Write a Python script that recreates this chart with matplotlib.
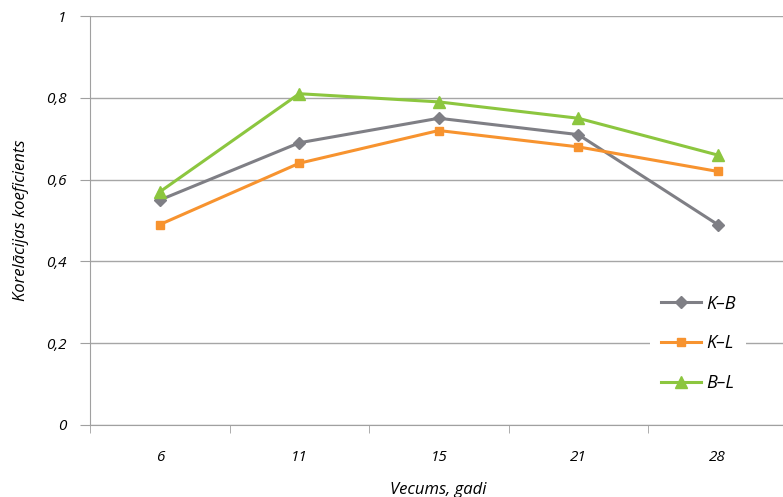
import numpy as np
import matplotlib.pyplot as plt

ages = ['6', '11', '15', '21', '28']
kb = [0.55, 0.69, 0.75, 0.71, 0.49]
kl = [0.49, 0.64, 0.72, 0.68, 0.62]
bl = [0.57, 0.81, 0.79, 0.75, 0.66]
yticks = [0, 0.2, 0.4, 0.6, 0.8, 1]
ytick_labels = ['0', '0,2', '0,4', '0,6', '0,8', '1']

plt.rcParams['font.family'] = ['Open Sans', 'DejaVu Sans']
plt.rcParams['font.style'] = 'italic'

fig = plt.figure(figsize=(7.83, 4.97), dpi=100)
ax = fig.add_axes([90 / 783, 1 - 425 / 497, 697.5 / 783, 409 / 497])

x = np.arange(len(ages))
ax.plot(x, kb, color='#7f7f85', lw=2.2, marker='D', ms=6, label='K–B', zorder=3)
ax.plot(x, kl, color='#f7932f', lw=2.2, marker='s', ms=6, label='K–L', zorder=3)
ax.plot(x, bl, color='#8cc63f', lw=2.2, marker='^', ms=8, label='B–L', zorder=3)

ax.set_xlim(-0.5, len(ages) - 0.5)
ax.set_ylim(0, 1)
ax.set_xticks(x)
ax.set_xticklabels(ages, fontsize=11)
ax.set_xticks(np.arange(-0.5, len(ages)), minor=True)
ax.tick_params(axis='x', which='major', length=0, pad=18)
ax.tick_params(axis='x', which='minor', length=6, color='#a0a0a0')
ax.set_yticks(yticks)
ax.set_yticklabels(ytick_labels, fontsize=11)
ax.tick_params(axis='y', length=7, color='#a0a0a0', pad=10)

ax.grid(axis='y', color='#a6a6a6', lw=1)
ax.set_axisbelow(True)
for s in ['top', 'right']:
    ax.spines[s].set_visible(False)
for s in ['left', 'bottom']:
    ax.spines[s].set_color('#a0a0a0')

ax.set_ylabel('Korelācijas koeficients', fontsize=12, labelpad=12)
ax.set_xlabel('Vecums, gadi', fontsize=12, labelpad=12)

leg = ax.legend(loc='center left', bbox_to_anchor=(0.79, 0.2), frameon=True,
                fontsize=13, handlelength=2.2, labelspacing=1.2,
                borderpad=0.6, handletextpad=0.3)
leg.get_frame().set_edgecolor('none')
leg.get_frame().set_facecolor('white')
leg.get_frame().set_alpha(1)

fig.savefig('out.png', dpi=100)
